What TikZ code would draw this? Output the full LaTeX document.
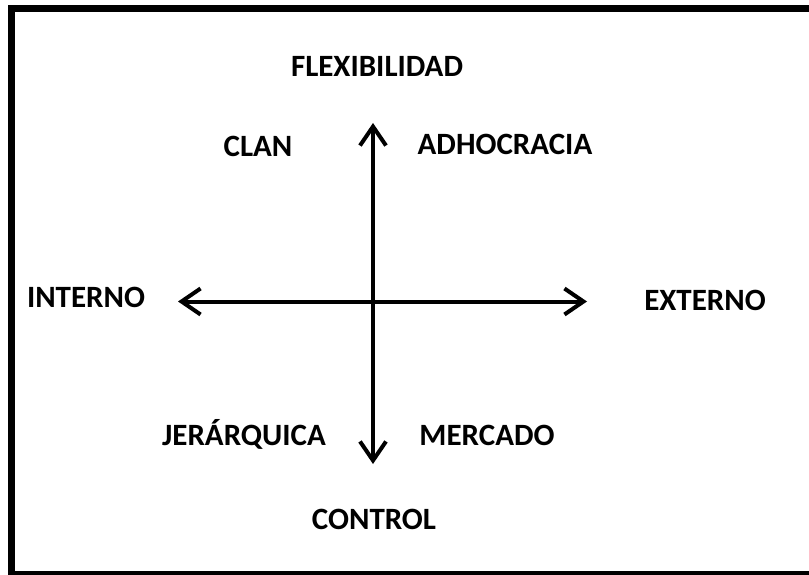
\documentclass[tikz,border=0pt]{standalone}
\usepackage{fontspec}
\setmainfont{Carlito}
\usetikzlibrary{arrows.meta}
\tikzset{
  lbl/.style={font=\bfseries\fontsize{31}{35}\selectfont, anchor=base, inner sep=0pt},
  axis/.style={line width=4pt, {Straight Barb[length=19pt,width=26pt]}-{Straight Barb[length=19pt,width=26pt]}},
  frame/.style={line width=7pt}
}
\begin{document}
\begin{tikzpicture}[x=1pt,y=1pt]
\useasboundingbox (0,0) rectangle (809,574);
\fill[white] (0,0) rectangle (809,574);
\draw[frame] (11.5,-5) -- (11.5,565) -- (815,565);
\draw[frame] (11.5,-0.5) -- (815,-0.5);
% axes
\coordinate (top) at (373,451);
\coordinate (bot) at (373,110);
\coordinate (lft) at (178,272.5);
\coordinate (rgt) at (587,272.5);
\draw[axis] (bot) -- (top);
\draw[axis] (lft) -- (rgt);
% labels
\node[lbl] (flex) at (377,497) {FLEXIBILIDAD};
\node[lbl] (clan) at (258,417) {CLAN};
\node[lbl] (adho) at (505,419) {ADHOCRACIA};
\node[lbl] (int) at (86,266) {INTERNO};
\node[lbl] (ext) at (705,264) {EXTERNO};
\node[lbl] (jer) at (244,129) {JERÁRQUICA};
\node[lbl] (mer) at (487,129) {MERCADO};
\node[lbl] (con) at (374,45) {CONTROL};
\end{tikzpicture}
\end{document}
